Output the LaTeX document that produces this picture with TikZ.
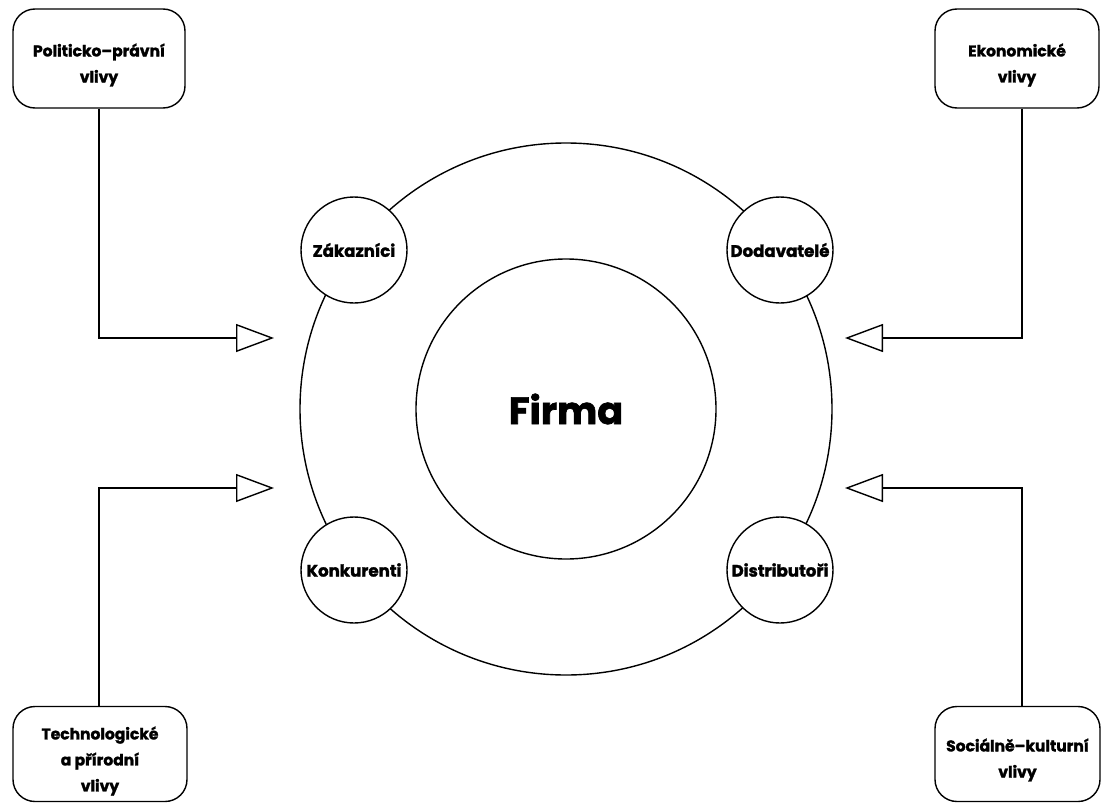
\documentclass[tikz,border=0pt]{standalone}
\usepackage{fontspec}
\setmainfont{Poppins}[BoldFeatures={FakeBold=1.8}]
\usetikzlibrary{arrows.meta}

\begin{document}
\begin{tikzpicture}[x=1pt, y=-1pt, line width=1.4pt,
  envbox/.style={draw, rounded corners=22pt, inner sep=0pt},
  envtext/.style={align=center, inner sep=0pt,
    font=\bfseries\fontsize{15.5}{26}\selectfont},
  ring/.style={draw, circle, inner sep=0pt},
  actor/.style={draw, circle, fill=white, minimum size=106pt, inner sep=0pt,
    font=\bfseries\fontsize{16.6}{18}\selectfont},
  infl/.style={-{Triangle[open, length=38pt, width=28pt]}, line join=miter}
]
\useasboundingbox (0,0) rectangle (1103,803);

% outer environment ring and the firm at its centre
\node[ring, minimum size=532pt] (outer) at (566,409) {};
\node[ring, minimum size=300pt, font=\bfseries\fontsize{38}{44}\selectfont] (firma) at (566,409) {Firma};

% actors of the micro-environment sitting on the ring
\node[actor] (zak)  at (354,250) {Zákazníci};
\node[actor] (dod)  at (780,250) {Dodavatelé};
\node[actor] (kon)  at (354,570) {Konkurenti};
\node[actor] (dis)  at (780,570) {Distributoři};

% macro-environment boxes in the corners
\node[envbox, minimum width=172pt, minimum height=99pt] (pol) at (99,58.5) {};
\node[envtext] (polT) at (99,65) {Politicko–právní\\vlivy};
\node[envbox, minimum width=164pt, minimum height=99pt] (eko) at (1017,58.5) {};
\node[envtext] (ekoT) at (1017,65) {Ekonomické\\vlivy};
\node[envbox, minimum width=174pt, minimum height=95pt] (tec) at (100,754) {};
\node[envtext] (tecT) at (100,761) {Technologické\\a přírodní\\vlivy};
\node[envbox, minimum width=165pt, minimum height=95pt] (soc) at (1017.5,754) {};
\node[envtext] (socT) at (1017.5,760) {Sociálně–kulturní\\vlivy};

% arrow tips pointing at the ring
\coordinate (polTip) at (274,338);
\coordinate (ekoTip) at (845,338);
\coordinate (tecTip) at (274,488);
\coordinate (socTip) at (845,488);

\draw[infl] (pol.south) |- (polTip);
\draw[infl] ([xshift=5pt]eko.south) |- (ekoTip);
\draw[infl] ([xshift=-1pt]tec.north) |- (tecTip);
\draw[infl] ([xshift=4.5pt]soc.north) |- (socTip);
\end{tikzpicture}
\end{document}
